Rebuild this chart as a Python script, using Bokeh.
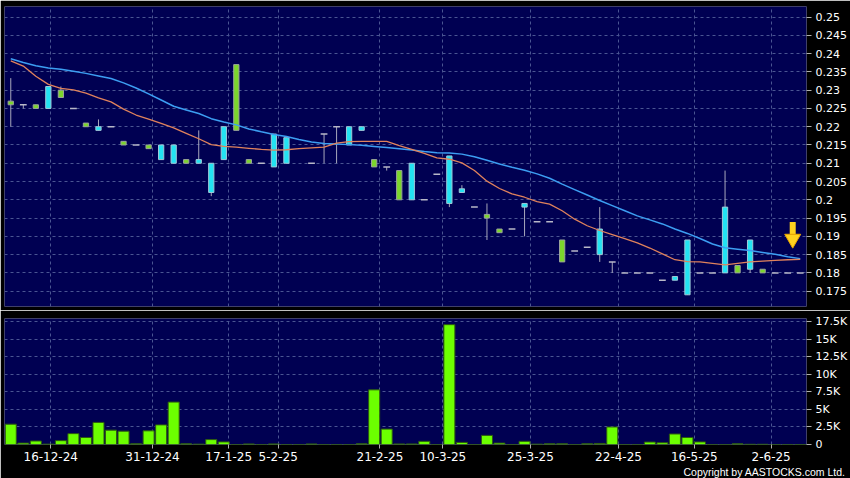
import numpy as np
from bokeh.plotting import figure
from bokeh.layouts import column
from bokeh.models import FixedTicker, Range1d, Title
from bokeh.embed import file_html
from bokeh.resources import INLINE

nan = float("nan")

# ---- data (one entry per trading slot) ----
opens = [0.226, 0.226, 0.225, 0.231, 0.228, 0.225, 0.220, 0.220, 0.220, 0.215,
         0.215, 0.214, 0.215, 0.215, 0.210, 0.211, 0.210, 0.220, 0.219, 0.210,
         0.210, 0.218, 0.217, nan, 0.210, 0.218, 0.220, 0.220, 0.220, 0.209,
         0.209, 0.200, 0.210, 0.200, 0.207, 0.212, 0.203, 0.198, 0.195, 0.191,
         0.192, 0.199, 0.194, 0.194, 0.183, 0.186, 0.187, 0.192, 0.183, 0.180,
         0.180, 0.180, 0.178, 0.179, 0.189, 0.180, 0.180, 0.198, 0.180, 0.189,
         0.180, 0.180, 0.180, 0.180]
highs = [0.2333, 0.226, 0.226, 0.231, 0.231, 0.225, 0.221, 0.222, 0.220, 0.216,
         0.215, 0.215, 0.215, 0.215, 0.211, 0.219, 0.210, 0.220, 0.237, 0.211,
         0.210, 0.218, 0.217, nan, 0.210, 0.218, 0.220, 0.220, 0.220, 0.211,
         0.209, 0.208, 0.210, 0.200, 0.207, 0.212, 0.204, 0.198, 0.199, 0.192,
         0.192, 0.199, 0.194, 0.194, 0.189, 0.186, 0.187, 0.198, 0.183, 0.180,
         0.180, 0.180, 0.178, 0.179, 0.189, 0.180, 0.180, 0.208, 0.182, 0.189,
         0.181, 0.180, 0.180, 0.180]
lows = [0.220, 0.225, 0.225, 0.225, 0.228, 0.225, 0.220, 0.219, 0.220, 0.215,
        0.215, 0.214, 0.211, 0.210, 0.210, 0.210, 0.201, 0.211, 0.219, 0.210,
        0.210, 0.209, 0.210, nan, 0.210, 0.210, 0.210, 0.215, 0.219, 0.209,
        0.208, 0.200, 0.200, 0.200, 0.207, 0.198, 0.202, 0.198, 0.189, 0.191,
        0.192, 0.190, 0.194, 0.194, 0.183, 0.186, 0.187, 0.183, 0.180, 0.180,
        0.180, 0.180, 0.178, 0.178, 0.174, 0.180, 0.180, 0.180, 0.180, 0.180,
        0.180, 0.180, 0.180, 0.180]
closes = [0.227, 0.226, 0.226, 0.225, 0.230, 0.225, 0.221, 0.219, 0.220, 0.216,
          0.215, 0.215, 0.211, 0.210, 0.211, 0.210, 0.202, 0.211, 0.237, 0.211,
          0.210, 0.209, 0.210, nan, 0.210, 0.218, 0.220, 0.215, 0.219, 0.211,
          0.209, 0.208, 0.200, 0.200, 0.207, 0.199, 0.202, 0.198, 0.196, 0.192,
          0.192, 0.198, 0.194, 0.194, 0.189, 0.186, 0.187, 0.185, 0.183, 0.180,
          0.180, 0.180, 0.178, 0.178, 0.174, 0.180, 0.180, 0.180, 0.182, 0.181,
          0.181, 0.180, 0.180, 0.180]
volumes_k = [2.9, 0.2, 0.5, 0.05, 0.55, 1.55, 1.0, 3.15, 2.05, 1.9,
             0.1, 1.95, 2.8, 6.05, 0.1, 0.05, 0.7, 0.37, 0.0, 0.08,
             0.0, 0.08, 0.0, 0.0, 0.08, 0.0, 0.0, 0.0, 0.1, 7.8,
             2.2, 0.08, 0.08, 0.45, 0.0, 17.1, 0.3, 0.0, 1.3, 0.2,
             0.0, 0.45, 0.05, 0.1, 0.1, 0.0, 0.1, 0.15, 2.5, 0.0,
             0.0, 0.35, 0.25, 1.5, 1.0, 0.37, 0.0, 0.0, 0.1, 0.03,
             0.03, 0.0, 0.0, 0.0]
ma_short = [0.2380, 0.2366, 0.2338, 0.2316, 0.2305, 0.2301, 0.2292, 0.2279, 0.2268, 0.2248,
            0.2232, 0.2221, 0.2209, 0.2197, 0.2182, 0.2167, 0.2151, 0.2146, 0.2144, 0.2141,
            0.2138, 0.2136, 0.2137, 0.2140, 0.2142, 0.2144, 0.2155, 0.2159, 0.2160, 0.2160,
            0.2160, 0.2148, 0.2138, 0.2127, 0.2115, 0.2111, 0.2101, 0.2080, 0.2051, 0.2031,
            0.2016, 0.2007, 0.1995, 0.1988, 0.1970, 0.1947, 0.1929, 0.1916, 0.1905, 0.1894,
            0.1882, 0.1868, 0.1852, 0.1836, 0.1831, 0.1830, 0.1826, 0.1822, 0.1826, 0.1830,
            0.1832, 0.1834, 0.1836, 0.1837]
ma_long = [0.2386, 0.2376, 0.2367, 0.2361, 0.2357, 0.2352, 0.2346, 0.2339, 0.2332, 0.2320,
           0.2306, 0.2290, 0.2273, 0.2256, 0.2246, 0.2236, 0.2222, 0.2213, 0.2205, 0.2194,
           0.2186, 0.2179, 0.2173, 0.2165, 0.2158, 0.2154, 0.2153, 0.2151, 0.2149, 0.2146,
           0.2143, 0.2140, 0.2136, 0.2132, 0.2129, 0.2128, 0.2125, 0.2118, 0.2108, 0.2098,
           0.2089, 0.2081, 0.2071, 0.2059, 0.2043, 0.2028, 0.2013, 0.1998, 0.1984, 0.1970,
           0.1956, 0.1945, 0.1934, 0.1920, 0.1908, 0.1894, 0.1879, 0.1869, 0.1865, 0.1861,
           0.1856, 0.1851, 0.1844, 0.1839]
date_ticks = [3.19, 11.31, 17.39, 21.34, 29.46, 34.48, 41.47, 48.5, 54.55, 60.68]
date_labels = ["16-12-24", "31-12-24", "17-1-25", "5-2-25", "21-2-25",
               "10-3-25", "25-3-25", "22-4-25", "16-5-25", "2-6-25"]
price_labels = ["0.175", "0.18", "0.185", "0.19", "0.195", "0.2", "0.205", "0.21",
                "0.215", "0.22", "0.225", "0.23", "0.235", "0.24", "0.245", "0.25"]
vol_labels = ["0", "2.5K", "5K", "7.5K", "10K", "12.5K", "15K", "17.5K"]
vol_values = [0, 2.5, 5, 7.5, 10, 12.5, 15, 17.5]

# ---- derived ----
o = np.array(opens); h = np.array(highs); l = np.array(lows); c = np.array(closes)
n = len(o)
idx = np.arange(n, dtype=float)
up = c > o + 1e-9
dn = c < o - 1e-9
doji = np.isclose(c, o)
price_vals = [float(s) for s in price_labels]

BG = "#000000"
PLOT_BG = "#000052"
GRID = "#4A5592"
FONT = "DejaVu Sans"

def style(p):
    p.background_fill_color = PLOT_BG
    p.border_fill_color = BG
    p.outline_line_color = None
    for g in (p.xgrid, p.ygrid):
        g.grid_line_color = GRID
        g.grid_line_dash = "3 3"
        g.grid_line_width = 1
    for ax in p.yaxis:
        ax.axis_line_color = None
        ax.major_tick_line_color = "#B0B0B0"
        ax.major_tick_in = 0
        ax.major_tick_out = 5
        ax.minor_tick_line_color = None
        ax.major_label_text_color = "#FFFFFF"
        ax.major_label_text_font = FONT
        ax.major_label_text_font_size = "11px"
        ax.major_label_standoff = 4

x_range = Range1d(-0.5, n - 0.5)

# ---- price panel ----
p1 = figure(width=850, height=310, x_range=x_range, y_range=Range1d(0.1708, 0.2529),
            x_axis_location=None, y_axis_location="right",
            output_backend="svg", toolbar_location=None,
            min_border_left=4, min_border_right=43, min_border_top=6, min_border_bottom=4)
style(p1)
p1.yaxis.ticker = FixedTicker(ticks=price_vals)
p1.yaxis.major_label_overrides = {v: s for v, s in zip(price_vals, price_labels)}
p1.ygrid.ticker = FixedTicker(ticks=price_vals)
p1.xgrid.ticker = FixedTicker(ticks=date_ticks)

wick = ~np.isclose(h, l)
p1.segment(idx[wick], h[wick], idx[wick], l[wick], line_color="#A8A8BC", line_width=1)
bw = 0.42
p1.vbar(x=idx[up], width=bw, top=c[up], bottom=o[up],
        fill_color="#7CD62C", line_color="#9AA39A", line_width=1)
p1.vbar(x=idx[dn], width=bw, top=o[dn], bottom=c[dn],
        fill_color="#22E2F2", line_color="#A0C8D8", line_width=1)
p1.segment(idx[doji] - 0.27, c[doji], idx[doji] + 0.27, c[doji],
           line_color="#B8B8C8", line_width=1.5)

p1.line(idx, ma_long, line_color="#3C9EF2", line_width=1.5)
p1.line(idx, ma_short, line_color="#E0825C", line_width=1.3)

# latest-price arrow
ax_x = idx[-1] - 0.6
last = c[-1]
p1.segment([ax_x], [last + 0.0139], [ax_x], [last + 0.0105],
           line_color="#FFD21E", line_width=6)
p1.scatter([ax_x], [last + 0.0093], marker="inverted_triangle", size=16,
           fill_color="#FFD21E", line_color="#E8A400", line_width=1)

# ---- volume panel ----
p2 = figure(width=850, height=168, x_range=x_range, y_range=Range1d(0, 17.98),
            y_axis_location="right",
            output_backend="svg", toolbar_location=None,
            min_border_left=4, min_border_right=43, min_border_top=8, min_border_bottom=34)
style(p2)
p2.yaxis.ticker = FixedTicker(ticks=vol_values)
p2.yaxis.major_label_overrides = {v: s for v, s in zip(vol_values, vol_labels)}
p2.ygrid.ticker = FixedTicker(ticks=vol_values)
p2.xgrid.ticker = FixedTicker(ticks=date_ticks)
xa = p2.xaxis[0]
xa.ticker = FixedTicker(ticks=date_ticks)
xa.major_label_overrides = {v: s for v, s in zip(date_ticks, date_labels)}
xa.axis_line_color = None
xa.major_tick_line_color = "#B0B0B0"
xa.major_tick_in = 0
xa.major_tick_out = 4
xa.minor_tick_line_color = None
xa.major_label_text_color = "#FFFFFF"
xa.major_label_text_font = FONT
xa.major_label_text_font_size = "12px"
xa.major_label_standoff = 3

p2.vbar(x=idx, width=0.88, top=volumes_k, bottom=0,
        fill_color="#6CFF00", line_color="#2E5A10", line_width=1)

p2.add_layout(Title(text="Copyright by AASTOCKS.com Ltd.", align="right",
                    text_color="#FFFFFF", text_font="Liberation Sans", text_font_size="10.5px",
                    text_font_style="normal", standoff=0, offset=-39), "below")

layout = column(p1, p2, spacing=0)

open("out.html", "w").write(file_html(layout, INLINE))
